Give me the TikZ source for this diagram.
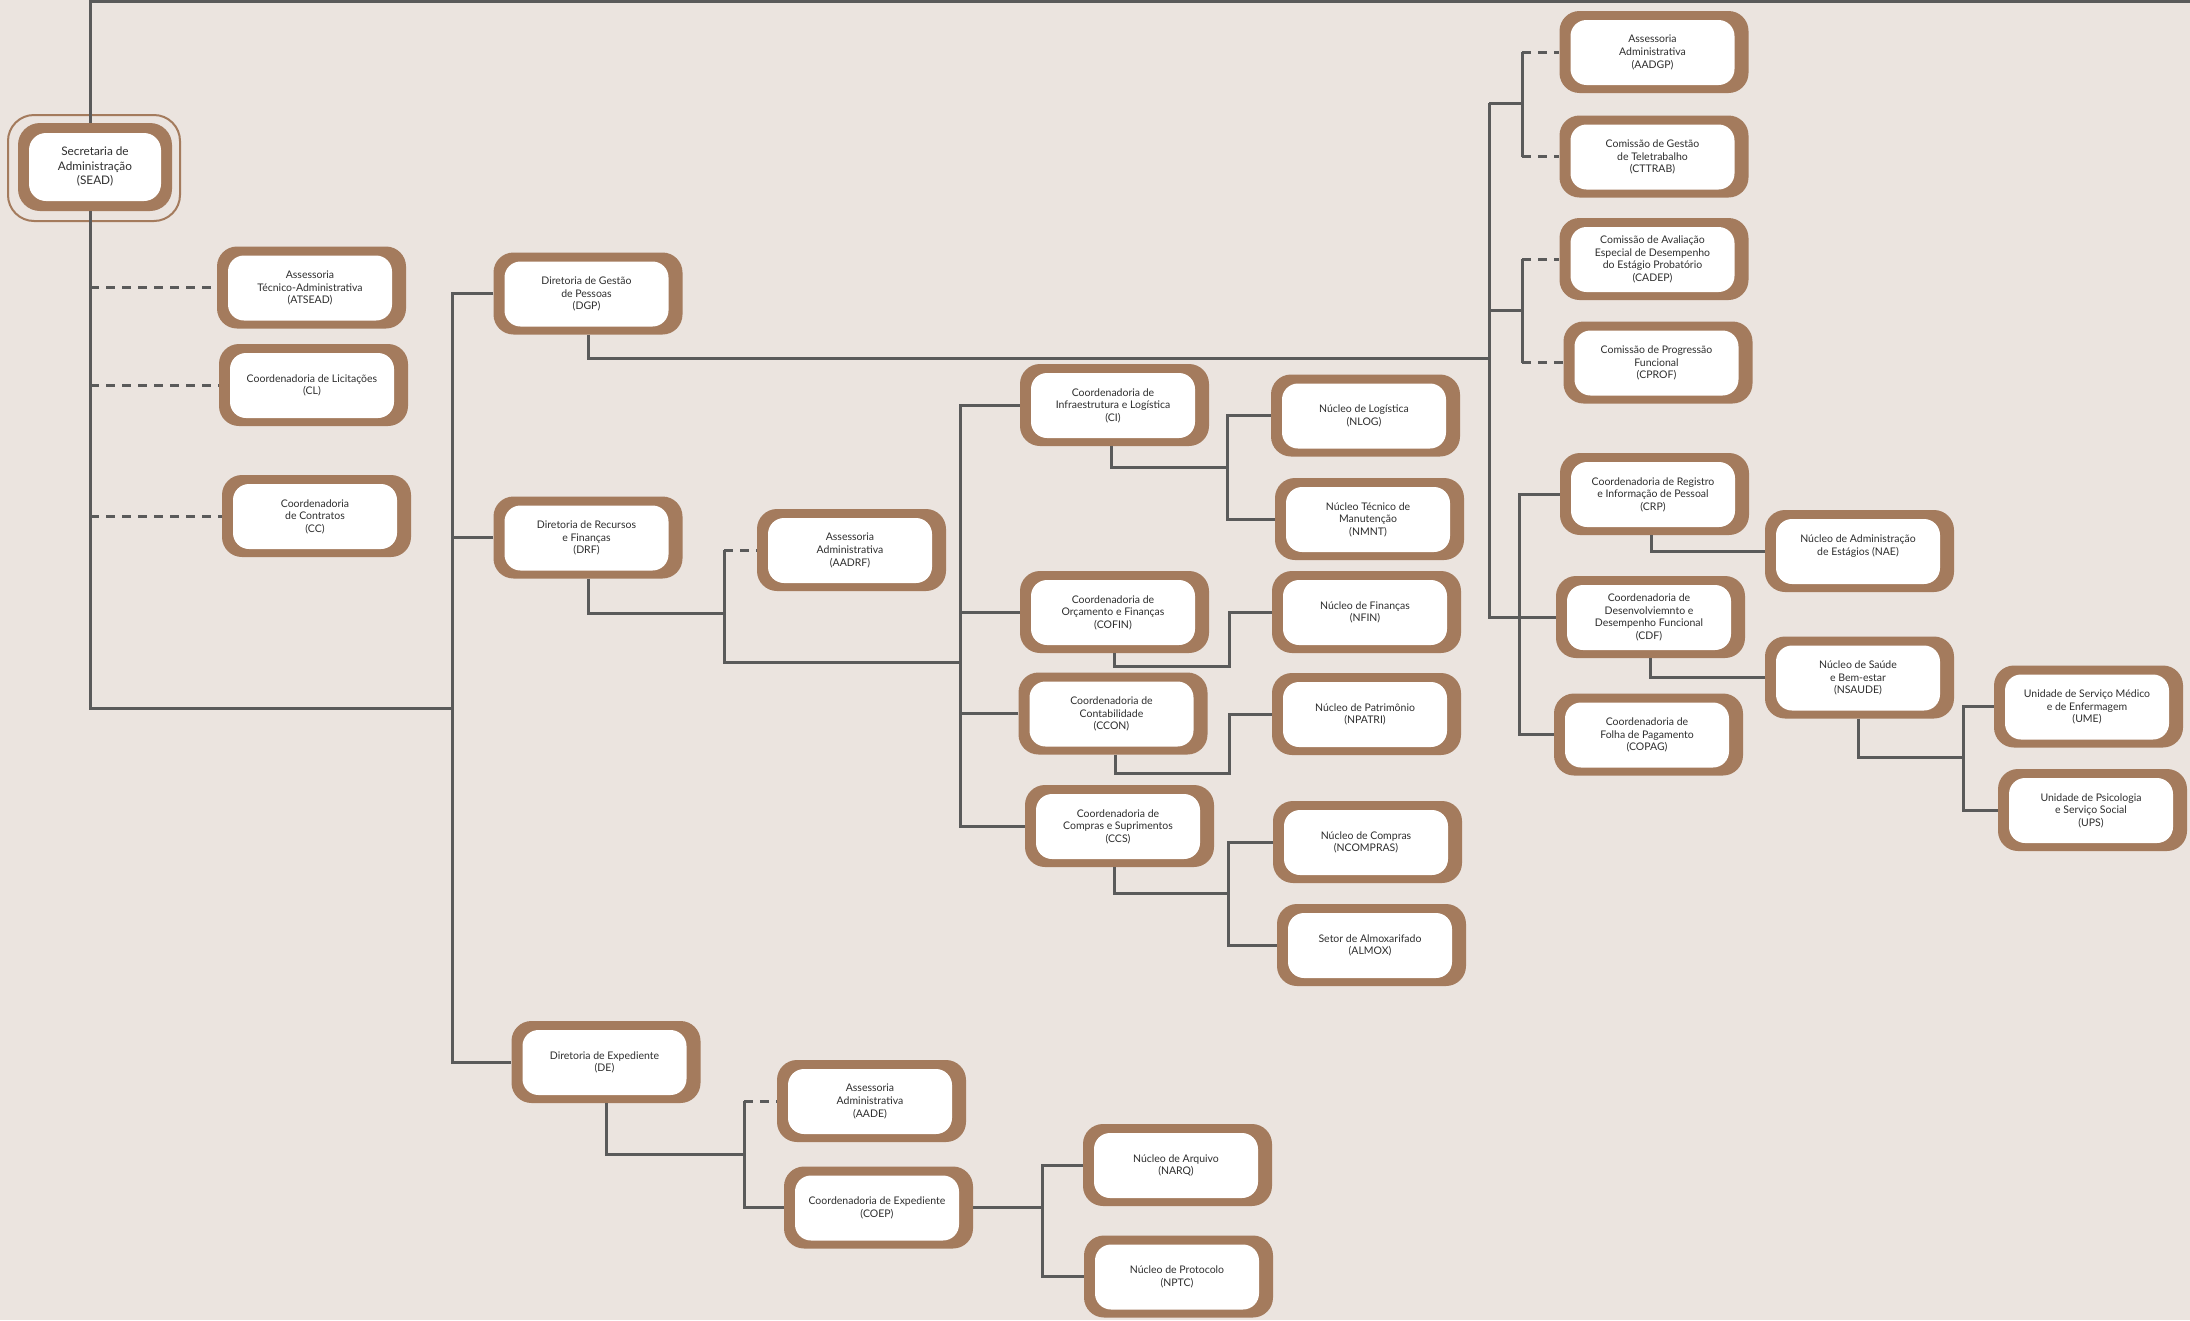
\documentclass[tikz,border=0pt]{standalone}
\usepackage{fontspec}
\setmainfont{Lato}
\definecolor{bgc}{HTML}{EBE4DF}
\definecolor{boxbrown}{HTML}{A47B5D}
\definecolor{lineg}{HTML}{5A5A5A}
\definecolor{txtc}{HTML}{2E2E2E}
\newcommand{\orgunit}[3]{%
  \node[obox] (#1) at (#2) {};
  \node[ibox] (#1-in) at ([xshift=-1.5pt,yshift=-0.5pt]#1.center) {#3};}
\begin{document}
\begin{tikzpicture}[x=1pt,y=-1pt,
  obox/.style={fill=boxbrown, rounded corners=20pt, minimum width=189pt, minimum height=82pt, inner sep=0pt},
  ibox/.style={fill=white, rounded corners=16pt, minimum width=164pt, minimum height=65pt, inner sep=2pt, align=center, text=txtc, font=\fontsize{10.5}{12.6}\selectfont},
  conn/.style={draw=lineg, line width=3pt},
  dconn/.style={draw=lineg, line width=3pt, dash pattern=on 9pt off 7pt}]
\fill[bgc] (0,0) rectangle (2190,1320);
\useasboundingbox (0,0) rectangle (2190,1320);

% ---------- SEAD ----------
\node[draw=boxbrown, line width=2pt, rounded corners=26pt, minimum width=172pt, minimum height=106pt] (SEADring) at (94,168) {};
\node[fill=boxbrown, rounded corners=22pt, minimum width=154pt, minimum height=88pt, inner sep=0pt] (SEAD) at (95,167) {};
\node[fill=white, rounded corners=17pt, minimum width=132pt, minimum height=68pt, inner sep=2pt, align=center, text=txtc, font=\fontsize{11.8}{14.5}\selectfont] (SEAD-in) at (SEAD.center) {Secretaria de\\Administração\\(SEAD)};

% ---------- units ----------
\orgunit{ATSEAD}{311.5,287.5}{Assessoria\\Técnico-Administrativa\\(ATSEAD)}
\orgunit{CL}{313.5,385}{Coordenadoria de Licitações\\(CL)}
\orgunit{CC}{316.5,516}{Coordenadoria\\de Contratos\\(CC)}
\orgunit{DGP}{588,293.5}{Diretoria de Gestão\\de Pessoas\\(DGP)}
\orgunit{DRF}{588,537.5}{Diretoria de Recursos\\e Finanças\\(DRF)}
\orgunit{AADRF}{851.5,550}{Assessoria\\Administrativa\\(AADRF)}
\orgunit{CI}{1114.5,405}{Coordenadoria de\\Infraestrutura e Logística\\(CI)}
\orgunit{COFIN}{1114.5,612}{Coordenadoria de\\Orçamento e Finanças\\(COFIN)}
\orgunit{CCON}{1113,713.5}{Coordenadoria de\\Contabilidade\\(CCON)}
\orgunit{CCS}{1119.5,826}{Coordenadoria de\\Compras e Suprimentos\\(CCS)}
\orgunit{NLOG}{1365.5,415.5}{Núcleo de Logística\\(NLOG)}
\orgunit{NMNT}{1369.5,519}{Núcleo Técnico de\\Manutenção\\(NMNT)}
\orgunit{NFIN}{1366.5,612}{Núcleo de Finanças\\(NFIN)}
\orgunit{NPATRI}{1366.5,714}{Núcleo de Patrimônio\\(NPATRI)}
\orgunit{NCOMPRAS}{1367.5,842}{Núcleo de Compras\\(NCOMPRAS)}
\orgunit{ALMOX}{1371.5,945}{Setor de Almoxarifado\\(ALMOX)}
\orgunit{DE}{606,1062}{Diretoria de Expediente\\(DE)}
\orgunit{AADE}{871.5,1101}{Assessoria\\Administrativa\\(AADE)}
\orgunit{COEP}{878.5,1207.5}{Coordenadoria de Expediente\\(COEP)}
\orgunit{NARQ}{1177.5,1165}{Núcleo de Arquivo\\(NARQ)}
\orgunit{NPTC}{1178.5,1276.5}{Núcleo de Protocolo\\(NPTC)}
\orgunit{AADGP}{1654,52}{Assessoria\\Administrativa\\(AADGP)}
\orgunit{CTTRAB}{1654,156.5}{Comissão de Gestão\\de Teletrabalho\\(CTTRAB)}
\orgunit{CADEP}{1654,259}{Comissão de Avaliação\\Especial de Desempenho\\do Estágio Probatório\\(CADEP)}
\orgunit{CPROF}{1658,362.5}{Comissão de Progressão\\Funcional\\(CPROF)}
\orgunit{CRP}{1654.5,494}{Coordenadoria de Registro\\e Informação de Pessoal\\(CRP)}
\orgunit{NAE}{1859.5,551}{Núcleo de Administração\\de Estágios (NAE)\\\mbox{}}
\orgunit{CDF}{1650.5,617}{Coordenadoria de\\Desenvolviemnto e\\Desempenho Funcional\\(CDF)}
\orgunit{NSAUDE}{1859.5,677.5}{Núcleo de Saúde\\e Bem-estar\\(NSAUDE)}
\orgunit{COPAG}{1648.5,734.5}{Coordenadoria de\\Folha de Pagamento\\(COPAG)}
\orgunit{UME}{2088.5,706.5}{Unidade de Serviço Médico\\e de Enfermagem\\(UME)}
\orgunit{UPS}{2092.5,810}{Unidade de Psicologia\\e Serviço Social\\(UPS)}

% ---------- connectors ----------
\coordinate (sx) at (90,0);
\coordinate (topEnd) at (2190,1.5);
\draw[conn] (sx |- SEAD.north) -- (sx |- topEnd) -- (topEnd);

\coordinate (j1) at (90,708);
\coordinate (b1) at (452,708);
\draw[conn] (sx |- SEAD.south) -- (j1) -- (b1);
\draw[dconn] (sx |- ATSEAD.west) -- (ATSEAD.west);
\draw[dconn] (sx |- CL.west) -- (CL.west);
\draw[dconn] (sx |- CC.west) -- (CC.west);

\draw[conn] (DGP.west) -| (b1) |- (DE.west);
\draw[conn] (DRF.west) -- (b1 |- DRF.west);

% DGP branch
\coordinate (rb) at (1489,358);
\draw[conn] (DGP.south) |- (rb);
\coordinate (rbT) at (1489,103);
\coordinate (rbM) at (1489,310);
\draw[conn] (rbT) -- (rbT |- CDF.west) -- (CDF.west);
\coordinate (sb1) at (1522,103);
\coordinate (sb2) at (1522,310);
\draw[conn] (rbT) -- (sb1);
\draw[conn] (rbM) -- (sb2);
\draw[conn] (sb1 |- AADGP.west) -- (sb1 |- CTTRAB.west);
\draw[dconn] (sb1 |- AADGP.west) -- (AADGP.west);
\draw[dconn] (sb1 |- CTTRAB.west) -- (CTTRAB.west);
\draw[conn] (sb2 |- CADEP.west) -- (sb2 |- CPROF.west);
\draw[dconn] (sb2 |- CADEP.west) -- (CADEP.west);
\draw[dconn] (sb2 |- CPROF.west) -- (CPROF.west);

\coordinate (sb3) at (1519,617);
\draw[conn] (CRP.west) -| (sb3) |- (COPAG.west);
\draw[conn] ([xshift=-3pt]CRP.south) |- (NAE.west);
\draw[conn] (CDF.south) |- (NSAUDE.west);
\coordinate (b4) at (1963,757);
\draw[conn] ([xshift=-1.5pt]NSAUDE.south) |- (b4);
\draw[conn] (UME.west) -| (b4) |- (UPS.west);

% DRF branch
\coordinate (b2a) at (724,613);
\coordinate (b2) at (724,662);
\coordinate (b3) at (960,662);
\draw[conn] (DRF.south) |- (b2a);
\draw[conn] (b2 |- AADRF.west) -- (b2) -- (b3);
\draw[dconn] (b2 |- AADRF.west) -- (AADRF.west);
\draw[conn] (CI.west) -| (b3) |- (CCS.west);
\draw[conn] (COFIN.west) -- (b3 |- COFIN.west);
\draw[conn] (CCON.west) -- (b3 |- CCON.west);

\coordinate (c1) at (1227,467);
\draw[conn] ([xshift=-3.5pt]CI.south) |- (c1);
\draw[conn] (NLOG.west) -| (c1) |- (NMNT.west);
\coordinate (c2) at (1229,666);
\draw[conn] (COFIN.south) |- (c2) |- (NFIN.west);
\coordinate (c3) at (1229,773);
\draw[conn] ([xshift=2pt]CCON.south) |- (c3) |- (NPATRI.west);
\coordinate (c4) at (1228,893);
\draw[conn] ([xshift=-5.5pt]CCS.south) |- (c4);
\draw[conn] (NCOMPRAS.west) -| (c4) |- (ALMOX.west);

% DE branch
\coordinate (d1) at (744,1154);
\draw[conn] (DE.south) |- (d1);
\draw[conn] (d1 |- AADE.west) -- (d1 |- COEP.west) -- (COEP.west);
\draw[dconn] (d1 |- AADE.west) -- (AADE.west);
\coordinate (d2) at (1042,1209);
\draw[conn] (COEP.east) -- (d2 |- COEP.east);
\draw[conn] (NARQ.west) -| (d2) |- (NPTC.west);
\end{tikzpicture}
\end{document}
